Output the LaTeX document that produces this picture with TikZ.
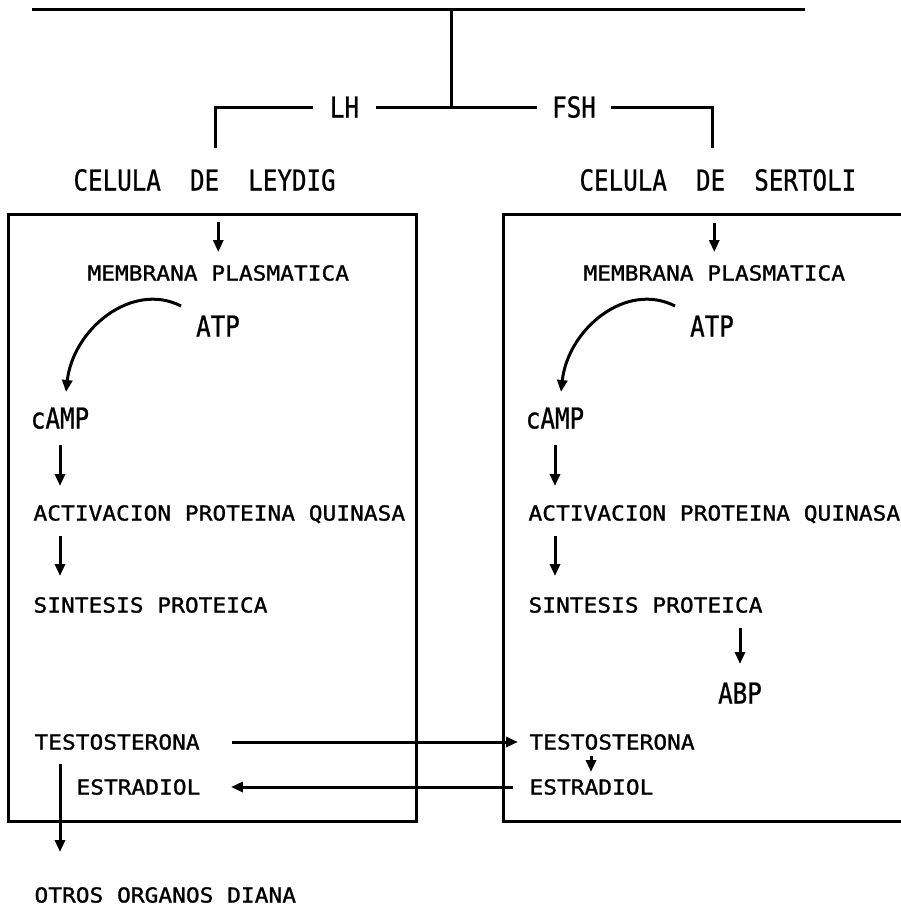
\documentclass[tikz,border=0pt]{standalone}
\usepackage{fontspec}
\usetikzlibrary{arrows.meta,calc}
\newfontfamily\lblfont[FakeStretch=1.11,FakeBold=1.2]{DejaVu Sans Mono}
\newfontfamily\bigfont[FakeStretch=0.84,FakeBold=0.8]{DejaVu Sans Mono}
\tikzset{
  lbl/.style={inner sep=0pt, font=\lblfont\fontsize{20.6}{24}\selectfont, text height=15pt, text depth=0pt},
  big/.style={inner sep=0pt, font=\bigfont\fontsize{28.8}{32}\selectfont, text height=21pt, text depth=0pt},
  arr/.style={-{Triangle[length=12pt,width=10pt]}},
}
\begin{document}
\begin{tikzpicture}[x=1pt,y=-1pt,line width=3pt]
\useasboundingbox[fill=white] (0,0) rectangle (901,908);

% hypophysis bar and hormone branches
\coordinate (tl) at (32,9);
\coordinate (tr) at (805,9);
\coordinate (tj) at (451,9);
\coordinate (cl) at (215,148);
\coordinate (cr) at (712,148);
\node[big, inner xsep=15pt] (lh) at (344.5,107) {LH};
\node[big, inner xsep=14pt] (fsh) at (574,107) {FSH};
\draw (tl) -- (tr);
\draw (tj) -- (tj |- lh);
\draw (lh.east) -- (fsh.west);
\draw (lh.west) -| (cl);
\draw (fsh.east) -| (cr);

\node[big, anchor=west] (celL) at (72,180) {CELULA\ \ DE\ \ LEYDIG};
\node[big, anchor=west] (celR) at (578,180) {CELULA\ \ DE\ \ SERTOLI};

% cell boxes
\node[draw, minimum width=408pt, minimum height=607pt, inner sep=0pt] (boxL) at (212,517.5) {};
\coordinate (rbTR) at (901,214);
\coordinate (rbTL) at (503,214);
\coordinate (rbBL) at (503,821);
\coordinate (rbBR) at (901,821);
\draw (rbTR) -- (rbTL) -- (rbBL) -- (rbBR);

% Leydig cell
\node[lbl, anchor=west] (memL) at (86,273) {MEMBRANA PLASMATICA};
\node[big] (atpL) at (218,326) {ATP};
\node[big] (campL) at (60,418) {cAMP};
\node[lbl, anchor=west] (actL) at (32,513) {ACTIVACION PROTEINA QUINASA};
\node[lbl, anchor=west] (sinL) at (32,605) {SINTESIS PROTEICA};
\node[lbl, anchor=west] (tesL) at (33,742) {TESTOSTERONA};
\node[lbl, anchor=west] (estL) at (75,787) {ESTRADIOL};
\node[lbl, anchor=west] (otros) at (33,895) {OTROS ORGANOS DIANA};

% Sertoli cell
\node[lbl, anchor=west] (memR) at (582,273) {MEMBRANA PLASMATICA};
\node[big] (atpR) at (712,326) {ATP};
\node[big] (campR) at (555,418) {cAMP};
\node[lbl, anchor=west] (actR) at (527,513) {ACTIVACION PROTEINA QUINASA};
\node[lbl, anchor=west] (sinR) at (527,605) {SINTESIS PROTEICA};
\node[big] (abp) at (740,693) {ABP};
\node[lbl, anchor=west] (tesR) at (528,742) {TESTOSTERONA};
\node[lbl, anchor=west] (estR) at (528,787) {ESTRADIOL};

% signalling cascade, Leydig
\draw[arr, shorten <=9pt, shorten >=12pt] (memL.north |- boxL.north) -- (memL.north);
\draw[arr] ($(atpL)+(-37,-20)$) .. controls +(-49,-25) and +(7,-63) .. ($(campL.north)+(6,-14)$);
\draw[arr, shorten <=15pt, shorten >=18pt] (campL.south) -- (campL |- actL.north);
\draw[arr, shorten <=14pt, shorten >=20pt] (campL |- actL.south) -- (campL |- sinL.north);

% signalling cascade, Sertoli
\draw[arr, shorten <=9pt, shorten >=12pt] (memR.north |- rbTL) -- (memR.north);
\draw[arr] ($(atpR)+(-37,-20)$) .. controls +(-49,-25) and +(7,-63) .. ($(campR.north)+(6,-14)$);
\draw[arr, shorten <=15pt, shorten >=18pt] (campR.south) -- (campR |- actR.north);
\draw[arr, shorten <=14pt, shorten >=20pt] (campR |- actR.south) -- (campR |- sinR.north);
\draw[arr, shorten <=14pt, shorten >=17pt] (abp |- sinR.south) -- (abp.north);

% steroid exchange between the cells
\draw[arr, shorten <=31pt, shorten >=10pt] (tesL.east) -- (tesR.west);
\draw[arr, shorten <=15pt, shorten >=29pt] (estR.west) -- (estL.east);
\draw[arr, shorten <=5pt, shorten >=6pt] ($(tesR.south west)+(63,0)$) -- ($(estR.north west)+(63,0)$);
\draw[arr, shorten <=13pt, shorten >=34pt] (campL |- tesL.south) -- (campL |- otros.north);
\end{tikzpicture}
\end{document}
